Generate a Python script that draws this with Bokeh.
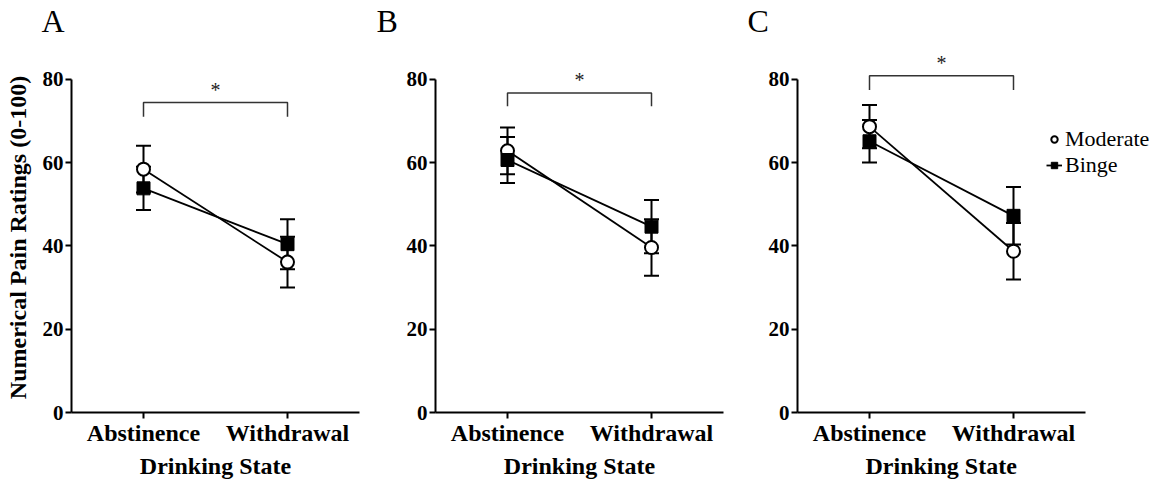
from bokeh.plotting import figure
from bokeh.models import (Range1d, FixedTicker, Whisker, TeeHead, ColumnDataSource,
                          Label, Legend, LegendItem, Title)
from bokeh.layouts import row, column
from bokeh.embed import file_html
from bokeh.resources import INLINE
from bokeh.core.properties import value

# ---------------- data ----------------
states = ["Abstinence", "Withdrawal"]
panel_names = ["A", "B", "C"]

moderate_A = [58.4, 36.1]
moderate_A_se = [5.6, 6.1]
binge_A = [53.8, 40.4]
binge_A_se = [5.2, 6.0]

moderate_B = [62.8, 39.6]
moderate_B_se = [5.6, 6.8]
binge_B = [60.6, 44.6]
binge_B_se = [5.5, 6.4]

moderate_C = [68.6, 38.7]
moderate_C_se = [5.2, 6.8]
binge_C = [65.1, 47.2]
binge_C_se = [5.1, 6.9]

bracket_top = [74.4, 76.7, 80.8]
bracket_foot = [71.0, 73.5, 77.4]

y_ticks = [0, 20, 40, 60, 80]

# ---------------- style ----------------
FONT = "Liberation Serif"
FRAME_W = 288
PX_PER_Y = 350 / 84.0       # pixels per y unit
UNIT_PX = FRAME_W / 2.0     # pixels per x unit
LETTER_H = 40               # height of the strip holding the panel letters
FRAME_BOTTOM = 372          # frame bottom, pixels from the plot figure's top


def letter_strip(letter, total_w, border_left, dx):
    s = figure(frame_width=total_w, frame_height=LETTER_H,
               x_range=Range1d(0, total_w), y_range=Range1d(0, LETTER_H),
               output_backend="svg", toolbar_location=None,
               x_axis_location=None, y_axis_location=None,
               min_border=0, min_border_top=0, min_border_bottom=0,
               min_border_left=0, min_border_right=0)
    s.title = None
    s.frame_align = False
    s.grid.visible = False
    s.outline_line_color = None
    s.border_fill_color = "white"
    s.background_fill_color = "white"
    s.text(x=[border_left + dx], y=[19.5], text=[letter], text_font=value(FONT),
           text_font_size="32px", text_baseline="middle", text_align="left",
           text_color="black")
    return s


def make_panel(idx, mod, mod_se, bng, bng_se, border_left, border_right,
               frame_h, extra_right=0, legend=False):
    xs = [1, 2]
    x_end = 2.5 + extra_right / UNIT_PX
    y_top = frame_h / PX_PER_Y
    border_top = FRAME_BOTTOM - frame_h
    p = figure(frame_width=FRAME_W + extra_right, frame_height=frame_h,
               x_range=Range1d(0.5, x_end), y_range=Range1d(0, y_top),
               output_backend="svg", toolbar_location=None, title=None,
               min_border_left=border_left, min_border_right=border_right,
               min_border_top=border_top, min_border_bottom=64)
    p.frame_align = False
    p.grid.visible = False
    p.outline_line_color = None
    p.background_fill_color = "white"
    p.border_fill_color = "white"

    # axes
    for ax in (p.xaxis[0], p.yaxis[0]):
        ax.axis_line_width = 2
        ax.axis_line_color = "black"
        ax.major_tick_line_width = 2
        ax.major_tick_line_color = "black"
        ax.major_tick_out = 6
        ax.major_tick_in = 0
        ax.minor_tick_line_color = None
        ax.major_label_text_font = FONT
        ax.major_label_text_font_style = "bold"
        ax.major_label_text_color = "black"
        ax.axis_label_text_font = FONT
        ax.axis_label_text_font_style = "bold"
        ax.axis_label_text_color = "black"
        ax.axis_label_text_font_size = "24px"

    p.xaxis.ticker = FixedTicker(ticks=xs)
    p.xaxis.major_label_overrides = {1: states[0], 2: states[1]}
    p.xaxis.bounds = (0.5, 2.5)
    p.xaxis.major_label_text_font_size = "24px"
    p.xaxis.major_label_standoff = 1
    if extra_right == 0:
        p.xaxis.axis_label = "Drinking State"
        p.xaxis.axis_label_standoff = 4
    else:
        # frame is wider here (room for the legend); centre the label on the axis
        p.add_layout(Title(text="Drinking State", align="left", offset=68,
                           standoff=4, text_font=FONT, text_font_size="24px",
                           text_font_style="bold", text_color="black"), "below")

    p.yaxis.ticker = FixedTicker(ticks=y_ticks)
    p.yaxis.bounds = (0, 80)
    p.yaxis.major_label_text_font_size = "21px"
    p.yaxis.major_label_standoff = 2
    if idx == 0:
        p.yaxis.axis_label = "Numerical Pain Ratings (0-100)"
        p.yaxis.axis_label_standoff = 9

    # error bars
    for vals, ses in ((mod, mod_se), (bng, bng_se)):
        src = ColumnDataSource(dict(
            x=xs,
            upper=[v + s for v, s in zip(vals, ses)],
            lower=[v - s for v, s in zip(vals, ses)]))
        w = Whisker(base="x", upper="upper", lower="lower", source=src,
                    dimension="height", line_width=2, line_color="black",
                    upper_head=TeeHead(size=15, line_width=2, line_color="black"),
                    lower_head=TeeHead(size=15, line_width=2, line_color="black"),
                    level="underlay")
        p.add_layout(w)

    # lines + markers
    p.line(xs, mod, line_width=1.8, line_color="black")
    l_b = p.line(xs, bng, line_width=1.8, line_color="black")
    s_m = p.scatter(xs, mod, marker="circle", size=13, fill_color="white",
                    line_color="black", line_width=2)
    s_b = p.scatter(xs, bng, marker="square", size=13, fill_color="black",
                    line_color="black", line_width=1)

    # significance bracket
    top = bracket_top[idx]
    foot = bracket_foot[idx]
    p.line([1, 1, 2, 2], [foot, top, top, foot], line_width=1.5, line_color="#333333")
    p.add_layout(Label(x=1.5, y=top, y_offset=13, text="*", text_font=FONT,
                       text_font_size="20px", text_align="center",
                       text_baseline="alphabetic", text_color="#222222"))

    if legend:
        lg = Legend(items=[LegendItem(label="Moderate", renderers=[s_m]),
                           LegendItem(label="Binge", renderers=[l_b, s_b])],
                    location=(249, 234), orientation="vertical",
                    border_line_color=None, background_fill_alpha=0,
                    padding=0, margin=0, spacing=0,
                    glyph_width=16, glyph_height=24, label_height=24,
                    label_standoff=3, label_text_font=FONT,
                    label_text_font_size="22px", label_text_color="black")
        p.add_layout(lg)
    return p


# left border, right border of each panel
LA, RA = 71, 11
LB, RB = 65, 9
LC, RC = 65, 0
EXTRA_C = 66
WA = LA + FRAME_W + RA
WB = LB + FRAME_W + RB
WC = LC + FRAME_W + EXTRA_C + RC

pA = make_panel(0, moderate_A, moderate_A_se, binge_A, binge_A_se, LA, RA, 350)
pB = make_panel(1, moderate_B, moderate_B_se, binge_B, binge_B_se, LB, RB, 350)
pC = make_panel(2, moderate_C, moderate_C_se, binge_C, binge_C_se, LC, RC, 367,
                extra_right=EXTRA_C, legend=True)

letters = row(letter_strip("A", WA, LA, -30),
              letter_strip("B", WB, LB, -59),
              letter_strip("C", WC, LC, -50))

layout = column(letters, row(pA, pB, pC))
open("out.html", "w").write(file_html(layout, INLINE))
